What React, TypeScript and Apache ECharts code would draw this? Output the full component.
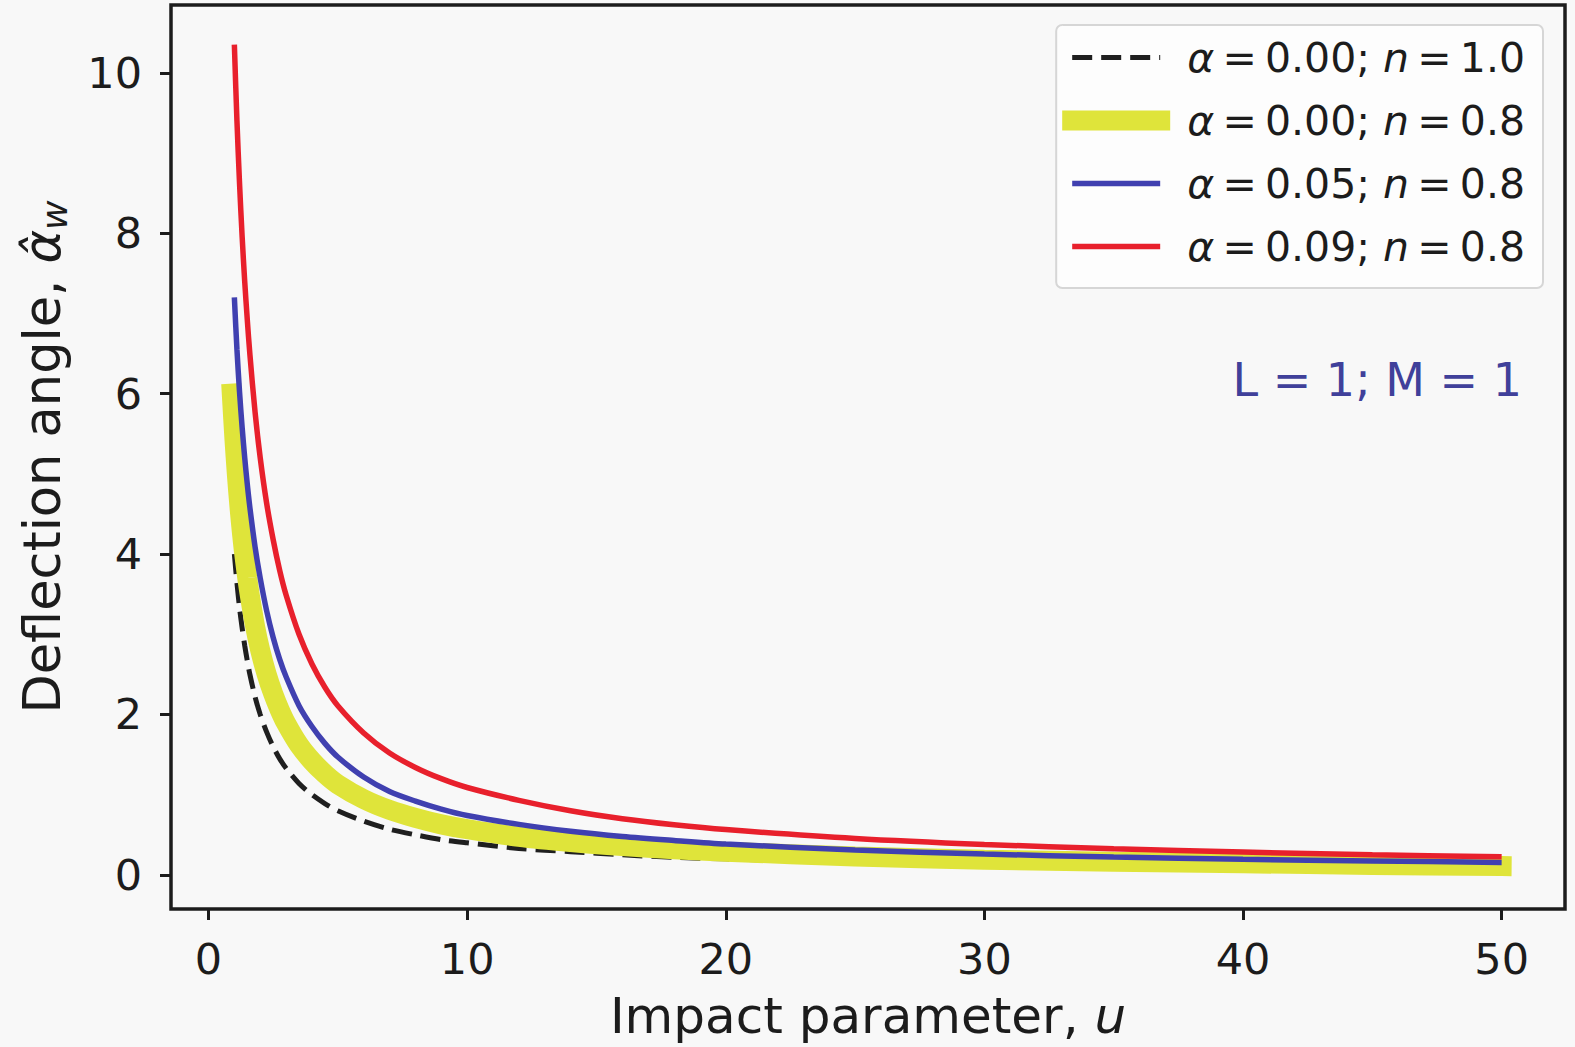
import React, { useEffect, useRef } from "react";
import * as echarts from "echarts";

// ---- data ----
const uValues = [1, 1.1, 1.2, 1.3, 1.4, 1.5, 1.6, 1.8, 2, 2.25, 2.5, 2.75, 3, 3.5, 4, 4.5, 5, 6, 7, 8, 9, 10, 12, 14, 16, 18, 20, 25, 30, 35, 40, 45, 50];
const blackN10 = [4.0, 3.64, 3.33, 3.08, 2.86, 2.67, 2.5, 2.22, 2.0, 1.78, 1.6, 1.45, 1.33, 1.14, 1.0, 0.89, 0.8, 0.67, 0.57, 0.5, 0.44, 0.4, 0.33, 0.29, 0.25, 0.22, 0.2, 0.16, 0.13, 0.115, 0.1, 0.09, 0.08];
const blueA005 = [7.2, 6.55, 6.02, 5.58, 5.2, 4.87, 4.58, 4.09, 3.7, 3.29, 2.96, 2.69, 2.47, 2.11, 1.85, 1.64, 1.47, 1.22, 1.04, 0.92, 0.82, 0.74, 0.63, 0.545, 0.48, 0.43, 0.385, 0.31, 0.26, 0.222, 0.195, 0.174, 0.155];
const redA009 = [10.35, 9.4, 8.62, 7.96, 7.4, 6.92, 6.49, 5.77, 5.2, 4.63, 4.18, 3.8, 3.49, 3.0, 2.63, 2.34, 2.11, 1.77, 1.52, 1.34, 1.2, 1.09, 0.93, 0.8, 0.7, 0.625, 0.565, 0.455, 0.38, 0.325, 0.285, 0.25, 0.225];

// the thick yellow curve starts slightly left of u = 1
const yellowU = [0.9, 1, 1.1, 1.2, 1.3, 1.4, 1.5, 1.6, 1.8, 2, 2.25, 2.5, 2.75, 3, 3.5, 4, 4.5, 5, 6, 7, 8, 9, 10, 12, 14, 16, 18, 20, 25, 30, 35, 40, 45, 50];
const yellowA000 = [6.0, 5.45, 4.98, 4.58, 4.24, 3.95, 3.7, 3.48, 3.1, 2.8, 2.5, 2.26, 2.06, 1.89, 1.62, 1.42, 1.26, 1.13, 0.945, 0.81, 0.71, 0.63, 0.57, 0.475, 0.41, 0.36, 0.32, 0.29, 0.23, 0.19, 0.165, 0.145, 0.125, 0.11];

const alphaLabels = ["0.00", "0.00", "0.05", "0.09"];
const nLabels = ["1.0", "0.8", "0.8", "0.8"];
const seriesNames = alphaLabels.map((a, i) => `α = ${a}; n = ${nLabels[i]}`);

const xTicks = [0, 10, 20, 30, 40, 50];
const yTicks = [0, 2, 4, 6, 8, 10];
const X_MIN = -1.45;
const X_MAX = 52.45;
const Y_MIN = -0.425;
const Y_MAX = 10.845;

const FONT = "DejaVu Sans";
const INK = "#1c1c1c";

export default function App() {
  const ref = useRef<HTMLDivElement>(null);

  useEffect(() => {
    if (!ref.current) return;
    const chart = echarts.init(ref.current, null, { renderer: "svg" });
    const pair = (us: number[], ys: number[]) => us.map((u, i) => [u, ys[i]]);

    const lineSeries = (idx: number, us: number[], ys: number[], color: string, lineStyle: any, z: number) => ({
      name: seriesNames[idx],
      type: "line",
      data: pair(us, ys),
      symbol: "none",
      smooth: 0.3,
      color,
      itemStyle: { color, opacity: 0 },
      lineStyle: { color, ...lineStyle },
      silent: true,
      emphasis: { disabled: true },
      z,
    });

    const option: any = {
      animation: false,
      backgroundColor: "#f8f8f8",
      grid: {
        left: 171,
        top: 5,
        right: 10,
        bottom: 138,
        show: true,
        borderColor: INK,
        borderWidth: 3.5,
        backgroundColor: "transparent",
      },
      xAxis: {
        type: "value",
        min: X_MIN,
        max: X_MAX,
        name: "Impact parameter, {i|u}",
        nameLocation: "middle",
        nameGap: 82,
        nameTextStyle: {
          fontFamily: FONT,
          fontSize: 50,
          color: INK,
          lineHeight: 50,
          rich: { i: { fontFamily: FONT, fontSize: 50, fontStyle: "italic", color: INK, lineHeight: 50 } },
        },
        axisLine: { show: false, onZero: false },
        splitLine: { show: false },
        axisTick: {
          show: true,
          length: 11,
          lineStyle: { color: INK, width: 3 },
          customValues: xTicks,
        },
        axisLabel: {
          customValues: xTicks,
          margin: 28,
          fontFamily: FONT,
          fontSize: 43,
          color: INK,
        },
      },
      yAxis: {
        type: "value",
        min: Y_MIN,
        max: Y_MAX,
        name: "Deflection angle, {a|α\u0302}{w|w}",
        nameLocation: "middle",
        nameRotate: 90,
        nameGap: 99,
        nameTextStyle: {
          fontFamily: FONT,
          fontSize: 51,
          color: INK,
          lineHeight: 60,
          rich: {
            a: { fontFamily: FONT, fontSize: 51, fontStyle: "italic", color: INK, lineHeight: 60 },
            w: { fontFamily: FONT, fontSize: 36, fontStyle: "italic", color: INK, lineHeight: 35, verticalAlign: "bottom" },
          },
        },
        axisLine: { show: false, onZero: false },
        splitLine: { show: false },
        axisTick: {
          show: true,
          length: 11,
          lineStyle: { color: INK, width: 3 },
          customValues: yTicks,
        },
        axisLabel: {
          customValues: yTicks,
          margin: 29,
          fontFamily: FONT,
          fontSize: 43,
          color: INK,
        },
      },
      legend: {
        orient: "vertical",
        right: 32,
        top: 25,
        itemWidth: 88,
        itemHeight: 40,
        itemGap: 22,
        padding: [12, 18, 21, 6],
        backgroundColor: "#fdfdfd",
        borderColor: "#d6d6d6",
        borderWidth: 2,
        borderRadius: 6,
        selectedMode: false,
        data: seriesNames,
        itemStyle: { opacity: 0 },
        lineStyle: { width: "inherit" },
        formatter: (name: string) => {
          const i = seriesNames.indexOf(name);
          return `{i|α}\u2009=\u2009${alphaLabels[i]}; {i|n}\u2009=\u2009${nLabels[i]}`;
        },
        textStyle: {
          fontFamily: FONT,
          fontSize: 41,
          color: INK,
          lineHeight: 40,
          padding: [0, 0, 0, 22],
          rich: { i: { fontFamily: FONT, fontSize: 41, fontStyle: "italic", color: INK, lineHeight: 40 } },
        },
      },
      graphic: [
        {
          type: "text",
          x: 1522,
          y: 380,
          silent: true,
          style: {
            text: "L = 1; M = 1",
            fontFamily: FONT,
            fontSize: 46,
            fill: "#40409a",
            align: "right",
            verticalAlign: "middle",
          },
        },
      ],
      series: [
        lineSeries(0, uValues, blackN10, "#1f1f1f", { width: 5, type: [20, 9] }, 2),
        lineSeries(1, yellowU, yellowA000, "#dfe43a", { width: 20, cap: "square" }, 3),
        lineSeries(2, uValues, blueA005, "#4040b0", { width: 5.5 }, 4),
        lineSeries(3, uValues, redA009, "#e8202c", { width: 5.5 }, 5),
      ],
    };

    chart.setOption(option);
    return () => chart.dispose();
  }, []);

  return (
    <div
      ref={ref}
      style={{ position: "fixed", left: 0, top: 0, width: 1575, height: 1047 }}
    />
  );
}
